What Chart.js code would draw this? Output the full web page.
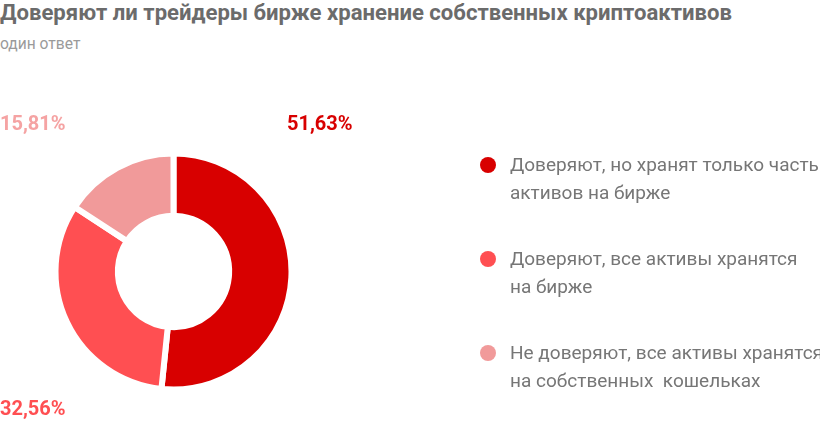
<!DOCTYPE html>
<html lang="ru">
<head>
<meta charset="utf-8">
<title>Доверяют ли трейдеры бирже хранение собственных криптоактивов</title>
<script src="https://cdn.jsdelivr.net/npm/chart.js@4.4.1/dist/chart.umd.min.js"></script>
<style>
    html, body {
        margin: 0;
        padding: 0;
        background: #fff;
        font-family: Roboto, "Noto Sans", sans-serif;
    }
    #wrap {
        position: relative;
        width: 820px;
        height: 422px;
        overflow: hidden;
    }
    #title {
        position: absolute;
        left: 0;
        top: -1px;
        font-size: 22.1px;
        font-weight: bold;
        color: #6b6b6b;
        white-space: nowrap;
        line-height: 26px;
    }
    #subtitle {
        position: absolute;
        left: 0;
        top: 34px;
        font-size: 15.6px;
        color: #9a9a9a;
        line-height: 20px;
    }
    #chartCanvas {
        position: absolute;
        left: 0;
        top: 0;
    }
    #legend {
        position: absolute;
        left: 480px;
        top: 151px;
        width: 340px;
    }
    .legend-item {
        position: relative;
        padding-left: 30px;
        height: 94px;
        font-size: 19px;
        line-height: 28px;
        color: #767676;
    }
    .legend-text {
        white-space: pre;
    }
    .legend-dot {
        position: absolute;
        left: 0;
        top: 6px;
        width: 16px;
        height: 16px;
        border-radius: 50%;
    }
</style>
</head>
<body>
<div id="wrap">
    <div id="title">Доверяют ли трейдеры бирже хранение собственных криптоактивов</div>
    <div id="subtitle">один ответ</div>
    <canvas id="chartCanvas" width="820" height="422"></canvas>
    <div id="legend"></div>
</div>

<script>
// ==========================
// DATA
// ==========================
const categories = [
    ["Доверяют, но хранят только часть", "активов на бирже"],
    ["Доверяют, все активы хранятся", "на бирже"],
    ["Не доверяют, все активы хранятся", "на собственных  кошельках"]
];
const shares = [51.63, 32.56, 15.81];
const shareLabels = ["51,63%", "32,56%", "15,81%"];

const sliceColors = ["#d80000", "#ff4f52", "#f19a9a"];
const labelColors = ["#d80000", "#ff4f52", "#f5a3a3"];

// where each percentage label sits (text anchor, not a mark)
const labelSpots = [
    { x: 287, y: 125 },
    { x: 0, y: 410 },
    { x: 0, y: 125 }
];

// ==========================
// PERCENT LABELS PLUGIN
// ==========================
const percentLabels = {
    id: "percentLabels",
    afterDraw(chart) {
        const ctx = chart.ctx;
        ctx.save();
        ctx.font = "bold 20px Roboto, 'Noto Sans', sans-serif";
        ctx.textAlign = "left";
        ctx.textBaseline = "middle";
        chart.data.datasets[0].data.forEach((v, i) => {
            ctx.fillStyle = labelColors[i];
            ctx.fillText(shareLabels[i], labelSpots[i].x, labelSpots[i].y);
        });
        ctx.restore();
    }
};

// ==========================
// CHART
// ==========================
const ctx = document.getElementById("chartCanvas");
new Chart(ctx, {
    type: "doughnut",
    data: {
        labels: categories,
        datasets: [{
            data: shares,
            backgroundColor: sliceColors,
            borderColor: "#ffffff",
            borderWidth: 6,
            hoverOffset: 0
        }]
    },
    options: {
        responsive: false,
        animation: false,
        radius: 118,
        cutout: 54,
        layout: {
            padding: { left: 56, right: 529, top: 154, bottom: 33 }
        },
        plugins: {
            legend: { display: false },
            tooltip: { enabled: false }
        }
    },
    plugins: [percentLabels]
});

// ==========================
// HTML LEGEND
// ==========================
const legend = document.getElementById("legend");
categories.forEach((lines, i) => {
    legend.innerHTML += '<div class="legend-item">' +
        '<span class="legend-dot" style="background:' + sliceColors[i] + '"></span>' +
        '<span class="legend-text">' + lines.join("\n") + '</span>' +
        '</div>';
});
</script>
</body>
</html>
